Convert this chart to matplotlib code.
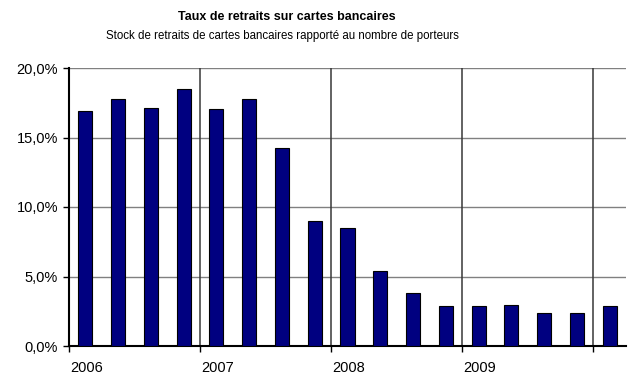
import matplotlib
matplotlib.use("Agg")
import matplotlib.pyplot as plt
from matplotlib.ticker import FuncFormatter

# quarterly data, 2006 Q1 -> 2010 Q1
quarters = ["2006T1", "2006T2", "2006T3", "2006T4",
            "2007T1", "2007T2", "2007T3", "2007T4",
            "2008T1", "2008T2", "2008T3", "2008T4",
            "2009T1", "2009T2", "2009T3", "2009T4",
            "2010T1"]
taux = [16.9, 17.8, 17.15, 18.5, 17.05, 17.8, 14.25, 9.0,
        8.5, 5.4, 3.8, 2.85, 2.85, 2.95, 2.4, 2.4, 2.85]
years = ["2006", "2007", "2008", "2009"]

plt.rcParams["font.family"] = ["Liberation Sans", "DejaVu Sans"]

fig = plt.figure(figsize=(6.28, 3.88), dpi=100)
ax = fig.add_axes([69 / 628, 42 / 388, 557 / 628, 278 / 388])

x = list(range(len(quarters)))
ax.bar(x, taux, width=0.43, color="#000080", edgecolor="black", linewidth=0.8, zorder=3)

ax.set_xlim(-0.5, len(quarters) - 0.5)
ax.set_ylim(0, 20)

# year boundaries
bounds = [i - 0.5 for i in range(0, len(quarters), 4)]
for b in bounds[1:]:
    ax.axvline(b, color="#383838", lw=1.1, zorder=2)
ax.set_xticks(bounds)
ax.set_xticklabels([])
for b, y in zip(bounds, years):
    ax.text(b + 0.03, -0.08, y, transform=ax.get_xaxis_transform(),
            ha="left", va="center", fontsize=10.5)

ax.set_yticks([0, 5, 10, 15, 20])
ax.yaxis.set_major_formatter(FuncFormatter(lambda v, p: f"{v:.1f}%".replace(".", ",")))
ax.tick_params(axis="y", labelsize=10.5, length=4, width=1, direction="out", pad=4)
ax.tick_params(axis="x", length=4, width=1, direction="out")
ax.grid(axis="y", color="#808080", lw=1, zorder=1)

for s in ["top", "right"]:
    ax.spines[s].set_visible(False)
ax.spines["left"].set_linewidth(1.5)
ax.spines["bottom"].set_linewidth(1.5)

fig.text(287 / 628, 1 - 17 / 388, "Taux de retraits sur cartes bancaires",
         ha="center", va="center", fontsize=9, fontweight="bold")
fig.text(282 / 628, 1 - 36 / 388,
         "Stock de retraits de cartes bancaires rapporté au nombre de porteurs",
         ha="center", va="center", fontsize=8.3)

fig.savefig("out.png", dpi=100)
